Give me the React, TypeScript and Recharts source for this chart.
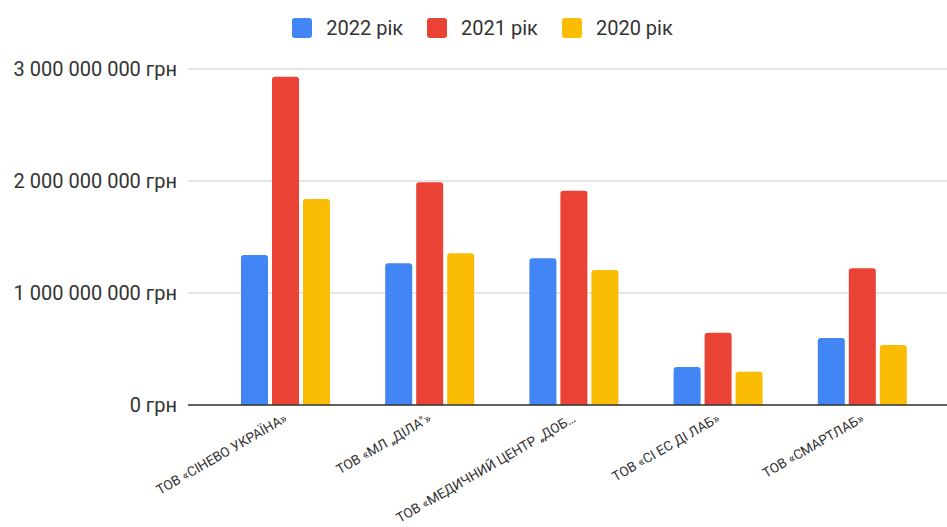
import React from 'react';
import { BarChart, Bar, XAxis, YAxis, CartesianGrid } from 'recharts';

const companies = [
  'ТОВ «СІНЕВО УКРАЇНА»',
  'ТОВ «МЛ „ДІЛА"»',
  'ТОВ «МЕДИЧНИЙ ЦЕНТР „ДОБ…',
  'ТОВ «СІ ЕС ДІ ЛАБ»',
  'ТОВ «СМАРТЛАБ»',
];
const rev2022 = [1339000000, 1265000000, 1310000000, 339000000, 598000000];
const rev2021 = [2931000000, 1988000000, 1913000000, 646000000, 1221000000];
const rev2020 = [1839000000, 1354000000, 1205000000, 297000000, 536000000];
const yTicks = [0, 1000000000, 2000000000, 3000000000];

const series = [
  { key: 'y2022', name: '2022 рік', color: '#4285F4' },
  { key: 'y2021', name: '2021 рік', color: '#EA4335' },
  { key: 'y2020', name: '2020 рік', color: '#FBBC04' },
];

const data = companies.map((name, i) => ({
  name,
  y2022: rev2022[i],
  y2021: rev2021[i],
  y2020: rev2020[i],
}));

const FONT = 'Roboto, Arial, sans-serif';
const TEXT = '#333';

const formatMoney = (v: number) =>
  String(v).replace(/\B(?=(\d{3})+(?!\d))/g, ' ') + ' грн';

function XTick({ x, y, payload }: any) {
  const ax = x + 3;
  const ay = y + 8;
  return (
    <text
      x={ax}
      y={ay}
      transform={`rotate(-30, ${ax}, ${ay})`}
      textAnchor="end"
      fontSize={13.5}
      fill={TEXT}
      fontFamily={FONT}
    >
      {payload.value}
    </text>
  );
}

function LegendBox() {
  return (
    <div
      style={{
        position: 'absolute',
        top: 17,
        left: 0,
        width: 947,
        display: 'flex',
        justifyContent: 'center',
        fontFamily: FONT,
        paddingLeft: 18,
        boxSizing: 'border-box',
      }}
    >
      {series.map((s) => (
        <div key={s.key} style={{ display: 'flex', alignItems: 'center', margin: '0 12px', height: 22 }}>
          <span
            style={{
              width: 20,
              height: 20,
              borderRadius: 3,
              background: s.color,
              display: 'inline-block',
              marginRight: 14,
            }}
          />
          <span style={{ fontSize: 20, color: TEXT }}>{s.name}</span>
        </div>
      ))}
    </div>
  );
}

export default function App() {
  return (
    <div style={{ position: 'absolute', left: 0, top: 0, width: 947, height: 527, background: '#fff' }}>
      <BarChart
        width={947}
        height={527}
        data={data}
        margin={{ top: 69, right: 0, bottom: 0, left: 0 }}
        barSize={27}
        barGap={4}
      >
        <CartesianGrid vertical={false} stroke="#ccc" />
        <XAxis
          dataKey="name"
          height={122}
          interval={0}
          padding={{ left: 25, right: 13 }}
          tickLine={false}
          axisLine={{ stroke: '#333', strokeWidth: 1.5 }}
          tick={<XTick />}
        />
        <YAxis
          width={188}
          domain={[0, 3000000000]}
          ticks={yTicks}
          tickLine={false}
          axisLine={false}
          tickMargin={5}
          tickFormatter={formatMoney}
          tick={{ fontSize: 20, fill: TEXT, fontFamily: FONT }}
        />
        {series.map((s) => (
          <Bar
            key={s.key}
            dataKey={s.key}
            name={s.name}
            fill={s.color}
            radius={[3, 3, 0, 0]}
            isAnimationActive={false}
          />
        ))}
      </BarChart>
      <LegendBox />
    </div>
  );
}
